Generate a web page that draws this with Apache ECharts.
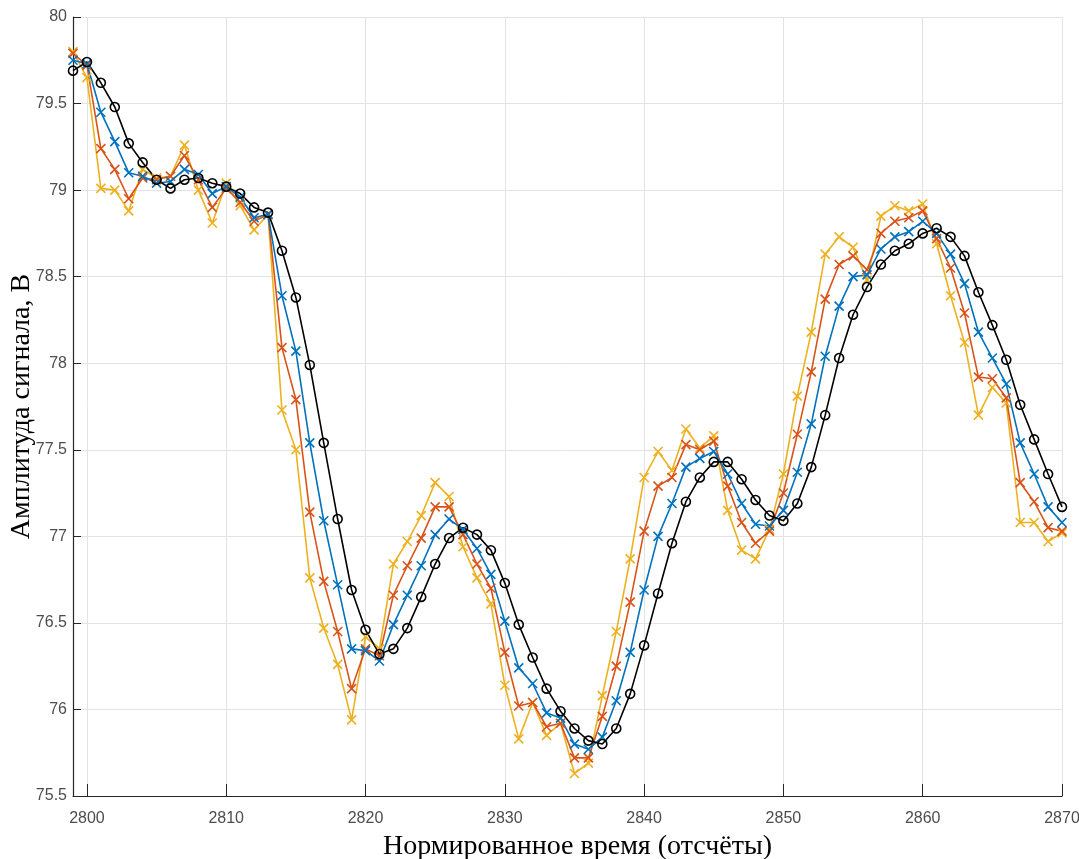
<!DOCTYPE html>
<html>
<head>
<meta charset="utf-8">
<script src="https://cdn.jsdelivr.net/npm/echarts@6/dist/echarts.min.js"></script>
<style>
  html, body { margin: 0; padding: 0; background: #fff; }
  #chart { width: 1079px; height: 859px; }
</style>
</head>
<body>
<div id="chart"></div>
<script>
// samples 2799 .. 2870
var startT = 2799;
var xTicks = [2800, 2810, 2820, 2830, 2840, 2850, 2860, 2870];

var blackVals = [
	79.69, 79.74, 79.62, 79.48, 79.27, 79.16, 79.06, 79.01, 79.06, 79.07, 79.04, 79.02,
	78.98, 78.90, 78.87, 78.65, 78.38, 77.99, 77.54, 77.10, 76.69, 76.46, 76.32, 76.35,
	76.47, 76.65, 76.84, 76.99, 77.05, 77.01, 76.92, 76.73, 76.49, 76.30, 76.12, 75.99,
	75.89, 75.82, 75.80, 75.89, 76.09, 76.37, 76.67, 76.96, 77.20, 77.34, 77.43, 77.43,
	77.33, 77.21, 77.12, 77.09, 77.19, 77.40, 77.70, 78.03, 78.28, 78.44, 78.57, 78.65,
	78.69, 78.75, 78.78, 78.73, 78.62, 78.41, 78.22, 78.02, 77.76, 77.56, 77.36, 77.17
];
var blueVals = [
	79.75, 79.73, 79.45, 79.28, 79.10, 79.08, 79.04, 79.05, 79.12, 79.09, 78.98, 79.02,
	78.96, 78.84, 78.86, 78.39, 78.07, 77.54, 77.09, 76.72, 76.35, 76.34, 76.28, 76.49,
	76.66, 76.83, 77.01, 77.10, 77.04, 76.93, 76.78, 76.51, 76.24, 76.15, 75.98, 75.95,
	75.80, 75.77, 75.84, 76.05, 76.33, 76.69, 77.00, 77.19, 77.40, 77.45, 77.49, 77.36,
	77.19, 77.07, 77.06, 77.15, 77.37, 77.65, 78.04, 78.33, 78.50, 78.51, 78.66, 78.73,
	78.76, 78.82, 78.75, 78.63, 78.46, 78.18, 78.03, 77.88, 77.54, 77.36, 77.17, 77.08
];
var orangeVals = [
	79.79, 79.72, 79.24, 79.12, 78.95, 79.07, 79.06, 79.08, 79.20, 79.06, 78.90, 79.01,
	78.93, 78.82, 78.86, 78.09, 77.79, 77.14, 76.74, 76.45, 76.12, 76.35, 76.31, 76.66,
	76.83, 76.99, 77.17, 77.17, 77.01, 76.84, 76.70, 76.33, 76.02, 76.04, 75.90, 75.92,
	75.72, 75.72, 75.96, 76.25, 76.62, 77.03, 77.29, 77.34, 77.53, 77.50, 77.55, 77.29,
	77.08, 76.96, 77.03, 77.25, 77.59, 77.95, 78.37, 78.57, 78.62, 78.54, 78.75, 78.82,
	78.84, 78.88, 78.72, 78.55, 78.29, 77.92, 77.91, 77.80, 77.31, 77.20, 77.05, 77.03
];
var yellowVals = [
	79.80, 79.65, 79.01, 79.00, 78.88, 79.12, 79.07, 79.08, 79.26, 79.00, 78.81, 79.04,
	78.91, 78.77, 78.86, 77.73, 77.50, 76.76, 76.47, 76.26, 75.94, 76.42, 76.35, 76.84,
	76.97, 77.12, 77.31, 77.23, 76.94, 76.76, 76.61, 76.14, 75.83, 76.04, 75.85, 75.92,
	75.63, 75.69, 76.08, 76.45, 76.87, 77.34, 77.49, 77.38, 77.62, 77.51, 77.58, 77.15,
	76.92, 76.87, 77.04, 77.36, 77.81, 78.18, 78.63, 78.73, 78.67, 78.48, 78.85, 78.91,
	78.88, 78.92, 78.69, 78.39, 78.12, 77.70, 77.86, 77.77, 77.08, 77.08, 76.97, 77.02
];

function pairs(vals) {
	return vals.map(function (v, i) { return [startT + i, v]; });
}

var crossMark = 'path://M0,0L10,10M0,10L10,0';

function crossSeries(vals, color) {
	return {
		type: 'line',
		data: pairs(vals),
		symbol: crossMark,
		symbolSize: 9,
		lineStyle: {color: color, width: 1.6},
		itemStyle: {color: 'rgba(0,0,0,0)', borderColor: color, borderWidth: 1.6}
	};
}

var tickFont = {color: '#4d4d4d', fontSize: 16, fontFamily: 'Liberation Sans Narrow, Liberation Sans, Arial'};
var nameFont = {color: '#000', fontSize: 28, fontFamily: 'Liberation Serif, Times New Roman, serif'};

var option = {
	animation: false,
	grid: {left: 73, right: 17, top: 17, bottom: 63, containLabel: false, outerBoundsMode: 'none'},
	xAxis: {
		type: 'value',
		min: 2799,
		max: 2870,
		name: 'Нормированное время (отсчёты)',
		nameLocation: 'middle',
		nameGap: 37,
		nameMoveOverlap: false,
		nameTextStyle: Object.assign({padding: [0, 0, 0, 20]}, nameFont),
		axisLine: {lineStyle: {color: '#262626', width: 1.2}},
		axisTick: {inside: true, length: 12, lineStyle: {color: '#262626'}, customValues: xTicks},
		axisLabel: Object.assign({
			margin: 15,
			customValues: xTicks,
			formatter: function (v) { return String(v); }
		}, tickFont),
		splitLine: {show: true, lineStyle: {color: '#e3e3e3', width: 1}}
	},
	yAxis: {
		type: 'value',
		min: 75.5,
		max: 80,
		interval: 0.5,
		name: 'Амплитуда сигнала, В',
		nameLocation: 'middle',
		nameGap: 37,
		nameMoveOverlap: false,
		nameTextStyle: nameFont,
		axisLine: {show: true, lineStyle: {color: '#262626', width: 1.2}},
		axisTick: {show: true, inside: true, length: 8, lineStyle: {color: '#262626'}},
		axisLabel: Object.assign({margin: 6}, tickFont),
		splitLine: {show: true, lineStyle: {color: '#e3e3e3', width: 1}}
	},
	series: [
		crossSeries(yellowVals, '#EDB120'),
		crossSeries(orangeVals, '#D95319'),
		crossSeries(blueVals, '#0072BD'),
		{
			type: 'line',
			data: pairs(blackVals),
			symbol: 'circle',
			symbolSize: 9,
			lineStyle: {color: '#000', width: 1.6},
			itemStyle: {color: 'rgba(0,0,0,0)', borderColor: '#000', borderWidth: 1.6}
		}
	]
};

var chart = echarts.init(document.getElementById('chart'));
chart.setOption(option);
</script>
</body>
</html>
